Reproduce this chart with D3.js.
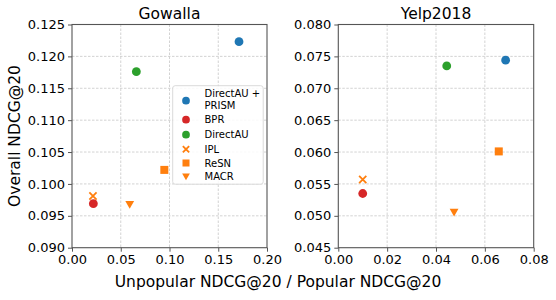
<!DOCTYPE html>
<html><head><meta charset="utf-8">
<script src="https://cdn.jsdelivr.net/npm/d3@7"></script>
<style>body{margin:0;background:#fff;} text{font-family:"DejaVu Sans",sans-serif;}</style>
</head><body><svg id="c" width="556" height="300"></svg>
<script>
const methods = ["DirectAU +\nPRISM","BPR","DirectAU","IPL","ReSN","MACR"];
const colors = ["#1f77b4","#d62728","#2ca02c","#ff7f0e","#ff7f0e","#ff7f0e"];
const shapes = ["circle","circle","circle","x","square","triangle"];
const gowallaX = [0.1713,0.0219,0.0660,0.0215,0.0947,0.0592];
const gowallaY = [0.1223,0.0969,0.1176,0.0981,0.1022,0.0968];
const yelpX = [0.0685,0.0100,0.0444,0.0100,0.0657,0.0474];
const yelpY = [0.0744,0.0535,0.0735,0.0557,0.0601,0.0506];
const gowallaXTicks = [0,0.05,0.10,0.15,0.20];
const gowallaYTicks = [0.090,0.095,0.100,0.105,0.110,0.115,0.120,0.125];
const yelpXTicks = [0,0.02,0.04,0.06,0.08];
const yelpYTicks = [0.045,0.050,0.055,0.060,0.065,0.070,0.075,0.080];
const titles = ["Gowalla","Yelp2018"];

const svg = d3.select("#c");
const plotTop = 24.5, plotBottom = 247.7;
const panels = [
  {x0:72, x1:267, xd:[0,0.2], yd:[0.09,0.125], xs:gowallaX, ys:gowallaY, xt:gowallaXTicks, yt:gowallaYTicks, title:titles[0], fx:".2f", fy:".3f", legend:true},
  {x0:338.3, x1:533.7, xd:[0,0.08], yd:[0.045,0.08], xs:yelpX, ys:yelpY, xt:yelpXTicks, yt:yelpYTicks, title:titles[1], fx:".2f", fy:".3f", legend:false}
];

function drawMarker(g, shape, cx, cy, color, s) {
  if (shape === "circle") {
    g.append("circle").attr("cx",cx).attr("cy",cy).attr("r",s*0.55).attr("fill",color);
  } else if (shape === "square") {
    g.append("rect").attr("x",cx-s*0.5).attr("y",cy-s*0.5).attr("width",s).attr("height",s).attr("fill",color);
  } else if (shape === "triangle") {
    const h = s*0.55;
    g.append("path").attr("d",`M${cx-h},${cy-h*0.75}L${cx+h},${cy-h*0.75}L${cx},${cy+h}Z`).attr("fill",color);
  } else if (shape === "x") {
    const h = s*0.45;
    g.append("path").attr("d",`M${cx-h},${cy-h}L${cx+h},${cy+h}M${cx-h},${cy+h}L${cx+h},${cy-h}`)
      .attr("stroke",color).attr("stroke-width",1.8).attr("fill","none");
  }
}

panels.forEach(p => {
  const x = d3.scaleLinear().domain(p.xd).range([p.x0,p.x1]);
  const y = d3.scaleLinear().domain(p.yd).range([plotBottom,plotTop]);
  const g = svg.append("g");
  g.selectAll(".gx").data(p.xt.slice(1,-1)).enter().append("line")
    .attr("x1",d=>x(d)).attr("x2",d=>x(d)).attr("y1",plotTop).attr("y2",plotBottom)
    .attr("stroke","#c8c8c8").attr("stroke-width",0.8).attr("stroke-dasharray","2.5,1.5");
  g.selectAll(".gy").data(p.yt.slice(1,-1)).enter().append("line")
    .attr("y1",d=>y(d)).attr("y2",d=>y(d)).attr("x1",p.x0).attr("x2",p.x1)
    .attr("stroke","#c8c8c8").attr("stroke-width",0.8).attr("stroke-dasharray","2.5,1.5");
  const ax = g.append("g").attr("transform",`translate(0,${plotBottom})`)
    .call(d3.axisBottom(x).tickValues(p.xt).tickFormat(d3.format(p.fx)).tickSize(4).tickPadding(3));
  const ay = g.append("g").attr("transform",`translate(${p.x0},0)`)
    .call(d3.axisLeft(y).tickValues(p.yt).tickFormat(d3.format(p.fy)).tickSize(4).tickPadding(3));
  [ax,ay].forEach(a => {
    a.select(".domain").remove();
    a.selectAll("line").attr("stroke","#555").attr("stroke-width",1);
    a.selectAll("text").attr("font-size","13px").attr("fill","#000").style("font-family","DejaVu Sans");
  });
  g.append("rect").attr("x",p.x0).attr("y",plotTop).attr("width",p.x1-p.x0).attr("height",plotBottom-plotTop)
    .attr("fill","none").attr("stroke","#555").attr("stroke-width",1.1);
  g.append("text").attr("x",(p.x0+p.x1)/2).attr("y",19).attr("text-anchor","middle")
    .attr("font-size","15.5px").text(p.title);
  p.xs.forEach((v,i) => drawMarker(g, shapes[i], x(v), y(p.ys[i]), colors[i], 8));
  if (p.legend) {
    const lg = svg.append("g");
    lg.append("rect").attr("x",172.7).attr("y",85.7).attr("width",90.5).attr("height",98.5)
      .attr("rx",2.5).attr("fill","#fff").attr("fill-opacity",0.85).attr("stroke","#d6d6d6").attr("stroke-width",0.9);
    const rowY = [100.7,119.7,134.7,149.3,163,176.3];
    methods.forEach((m,i) => {
      drawMarker(lg, shapes[i], 186, rowY[i], colors[i], 7);
      const lines = m.split("\n");
      const t = lg.append("text").attr("x",204.5).attr("font-size","10px");
      lines.forEach((ln,j) => {
        t.append("tspan").attr("x",204.5)
          .attr("y", rowY[i] + 3.6 + (j - (lines.length-1)/2) * 11.5 - (lines.length>1?1.5:0))
          .text(ln);
      });
    });
  }
});

svg.append("text").attr("x",278).attr("y",287).attr("text-anchor","middle")
  .attr("font-size","15.5px").text("Unpopular NDCG@20 / Popular NDCG@20");
svg.append("text").attr("transform","translate(19.5,136) rotate(-90)").attr("text-anchor","middle")
  .attr("font-size","15.5px").text("Overall NDCG@20");
</script></body></html>
